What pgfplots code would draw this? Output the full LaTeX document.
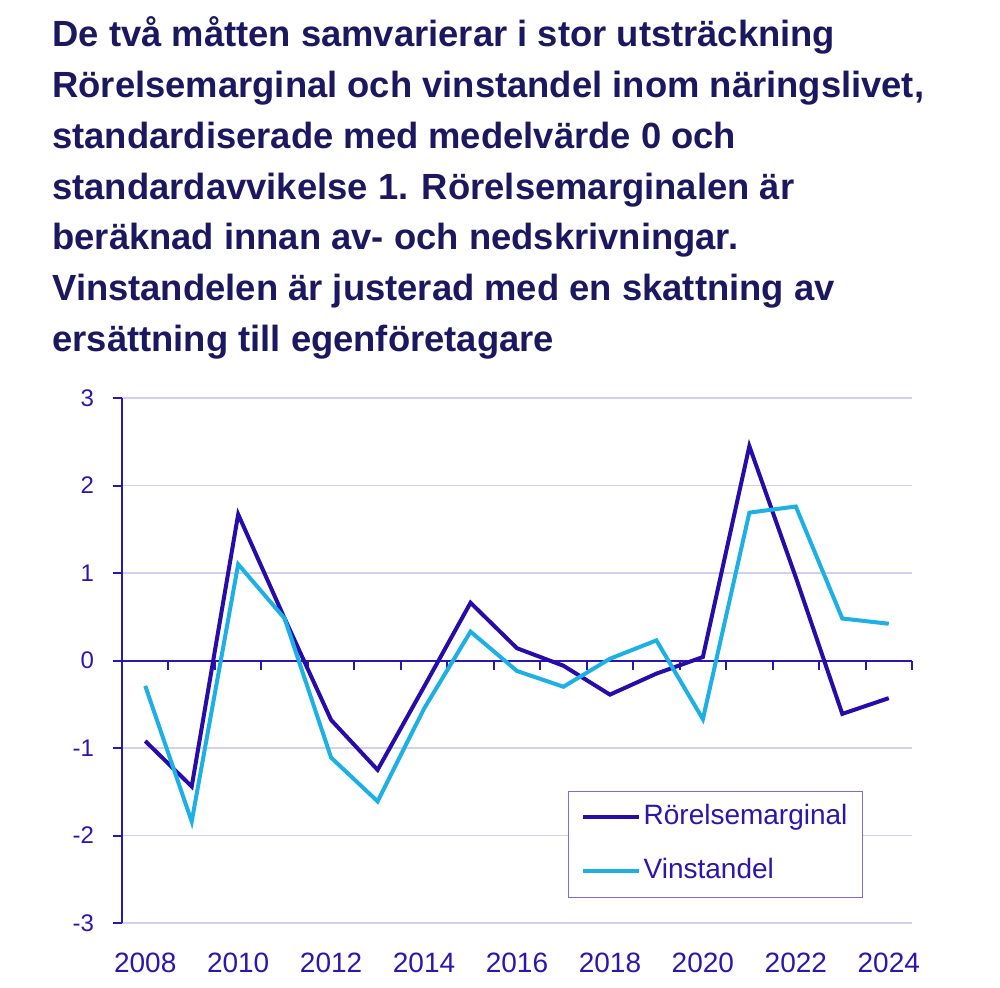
\documentclass[border=0pt]{standalone}
\usepackage{fontspec}
\setmainfont{Liberation Sans}
\usepackage{pgfplots}
\pgfplotsset{compat=1.18}
\definecolor{titlenavy}{RGB}{27,24,96}
\definecolor{axisblue}{RGB}{44,22,176}
\definecolor{rmdark}{RGB}{40,12,170}
\definecolor{vslight}{RGB}{28,176,228}
\definecolor{gridlav}{RGB}{210,208,240}
\definecolor{legframe}{RGB}{120,110,215}

\begin{document}
\begin{tikzpicture}
\path[use as bounding box] (0pt,0pt) rectangle (500pt,-494pt);
\begin{scope}[every node/.style={anchor=base west, inner sep=0pt, text=titlenavy,
    font=\fontsize{18.2pt}{21pt}\selectfont\bfseries}]
  \node at (26pt,-23.5pt)  {De två måtten samvarierar i stor utsträckning};
  \node at (26pt,-48.85pt) {Rörelsemarginal och vinstandel inom näringslivet,};
  \node at (26pt,-74.2pt)  {standardiserade med medelvärde 0 och};
  \node at (26pt,-99.55pt) {standardavvikelse 1. Rörelsemarginalen är};
  \node at (26pt,-124.9pt) {beräknad innan av- och nedskrivningar.};
  \node at (26pt,-150.25pt){Vinstandelen är justerad med en skattning av};
  \node at (26pt,-175.6pt) {ersättning till egenföretagare};
\end{scope}
\begin{axis}[
  at={(61pt,-461.5pt)}, anchor=south west,
  scale only axis, width=395pt, height=262.5pt,
  xmin=2007.5, xmax=2024.5, ymin=-3, ymax=3,
  axis x line*=middle, axis y line*=left,
  axis line style={axisblue, line width=1pt},
  hide obscured x ticks=false, hide obscured y ticks=false,
  tick align=outside, major tick length=4.5pt,
  tick style={axisblue, line width=1pt},
  xtick={2007.5,2008.5,...,2024.5}, xticklabels={},
  extra x ticks={2008,2010,...,2024},
  extra x tick labels={2008,2010,2012,2014,2016,2018,2020,2022,2024},
  extra x tick style={major tick length=0pt,
    tick label style={anchor=center, yshift=-151pt}},
  xticklabel style={font=\fontsize{14pt}{16pt}\selectfont, text=axisblue},
  ytick={-3,-2,...,3}, yticklabels={-3,-2,-1,0,1,2,3},
  yticklabel style={font=\fontsize{12pt}{14pt}\selectfont, text=axisblue, xshift=-6pt},
  ymajorgrids, major grid style={gridlav, line width=0.75pt},
  legend cell align=left,
  legend image code/.code={\draw[#1] (0pt,0pt) -- (28pt,0pt);},
  legend style={at={(0.5646,0.0476)}, anchor=south west, draw=legframe,
    line width=0.6pt, fill=white, font=\fontsize{14pt}{16pt}\selectfont,
    text=axisblue, inner xsep=6pt, inner ysep=5pt, row sep=11pt,
    nodes={inner sep=1.5pt, text depth=3pt, text height=10pt}},
]
\addplot[rmdark, line width=2pt] coordinates {
  (2008,-0.92) (2009,-1.44) (2010,1.67) (2011,0.48) (2012,-0.68)
  (2013,-1.25) (2014,-0.30) (2015,0.66) (2016,0.14) (2017,-0.06)
  (2018,-0.39) (2019,-0.15) (2020,0.04) (2021,2.45) (2022,0.95)
  (2023,-0.61) (2024,-0.43)
};
\addlegendentry{Rörelsemarginal}
\addplot[vslight, line width=2pt] coordinates {
  (2008,-0.29) (2009,-1.84) (2010,1.10) (2011,0.48) (2012,-1.11)
  (2013,-1.61) (2014,-0.55) (2015,0.33) (2016,-0.12) (2017,-0.30)
  (2018,0.02) (2019,0.23) (2020,-0.67) (2021,1.69) (2022,1.76)
  (2023,0.48) (2024,0.42)
};
\addlegendentry{Vinstandel}
\end{axis}
\end{tikzpicture}
\end{document}
